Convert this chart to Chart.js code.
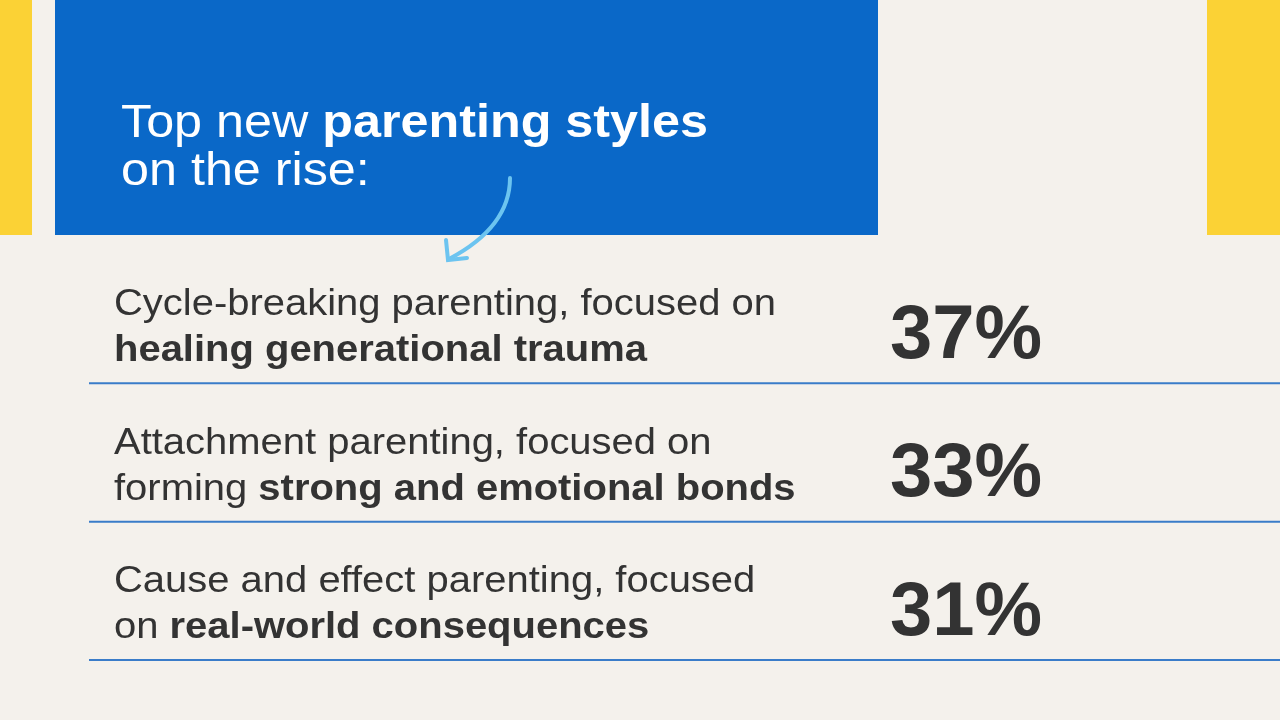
<!DOCTYPE html>
<html><head><meta charset="utf-8">
<script src="https://cdn.jsdelivr.net/npm/chart.js@4"></script>
<style>html,body{margin:0;padding:0;background:#f4f1ec;}canvas{display:block}</style>
</head><body>
<canvas id="c" width="1280" height="720"></canvas>
<script>
const categories = ["Cycle-breaking", "Attachment", "Cause and effect"];
const values = [37, 33, 31];
const line1 = [
  [["Cycle-breaking parenting, focused on", false]],
  [["Attachment parenting, focused on", false]],
  [["Cause and effect parenting, focused", false]]
];
const line2 = [
  [["healing generational trauma", true]],
  [["forming ", false], ["strong and emotional bonds", true]],
  [["on ", false], ["real-world consequences", true]]
];
const titleLine1 = [["Top new ", false], ["parenting styles", true]];
const titleLine2 = [["on the rise:", false]];

const FONT = '"Liberation Sans", Arial, sans-serif';
function drawSegs(ctx, segs, x, y, size, color, sx) {
  ctx.save(); ctx.translate(x, y); ctx.scale(sx, 1);
  ctx.fillStyle = color; ctx.textBaseline = 'middle'; ctx.textAlign = 'left';
  let cx = 0;
  for (const [t, b] of segs) {
    ctx.font = (b ? 'bold ' : '') + size + 'px ' + FONT;
    ctx.fillText(t, cx, 0);
    cx += ctx.measureText(t).width;
  }
  ctx.restore();
}
const deco = {
  id: 'deco',
  beforeDraw(chart) {
    const ctx = chart.ctx;
    ctx.save();
    ctx.fillStyle = '#f4f1ec'; ctx.fillRect(0, 0, 1280, 720);
    ctx.fillStyle = '#fbd235';
    ctx.fillRect(0, 0, 32, 235); ctx.fillRect(1207, 0, 73, 235);
    ctx.fillStyle = '#0a68c8'; ctx.fillRect(55, 0, 823, 235);
    drawSegs(ctx, titleLine1, 121, 124, 47, '#ffffff', 1.07);
    drawSegs(ctx, titleLine2, 121, 172, 47, '#ffffff', 1.07);
    ctx.strokeStyle = '#6cc4f0'; ctx.lineWidth = 4; ctx.lineCap = 'round';
    ctx.beginPath(); ctx.moveTo(510, 178);
    ctx.bezierCurveTo(510, 215, 485, 240, 449, 259); ctx.stroke();
    ctx.beginPath(); ctx.moveTo(446, 240); ctx.lineTo(448, 260); ctx.lineTo(467, 258); ctx.stroke();
    ctx.restore();
  },
  afterDatasetsDraw(chart) {
    const ctx = chart.ctx, ys = chart.scales.y;
    ctx.save();
    const step = ys.getPixelForValue(1) - ys.getPixelForValue(0);
    categories.forEach((c, i) => {
      const yc = ys.getPixelForValue(i);
      drawSegs(ctx, line1[i], 114, yc - 8, 37, '#333333', 1.08);
      drawSegs(ctx, line2[i], 114, yc + 38, 37, '#333333', 1.08);
      drawSegs(ctx, [[values[i] + '%', true]], 890, yc + 24, 76, '#333333', 1.0);
      ctx.strokeStyle = '#3a7cc9'; ctx.lineWidth = 2;
      ctx.beginPath(); ctx.moveTo(89, yc + step / 2 + 1); ctx.lineTo(1280, yc + step / 2 + 1); ctx.stroke();
    });
    ctx.restore();
  }
};
new Chart(document.getElementById('c'), {
  type: 'bar',
  data: { labels: categories, datasets: [{ data: values, backgroundColor: 'rgba(0,0,0,0)' }] },
  options: {
    indexAxis: 'y', responsive: false, animation: false,
    layout: { padding: { top: 244, bottom: 61, left: 0, right: 0 } },
    plugins: { legend: { display: false }, tooltip: { enabled: false } },
    scales: { x: { display: false, min: 0, max: 100 }, y: { display: false } }
  },
  plugins: [deco]
});
</script>
</body></html>
